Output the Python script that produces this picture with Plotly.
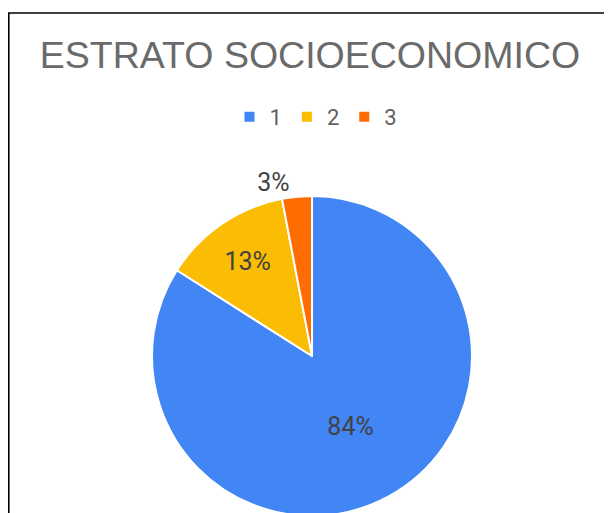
import plotly.graph_objects as go

labels = ["1", "2", "3"]
values = [84, 13, 3]
colors = ["#4285F4", "#FBBC04", "#FF6D01"]
text_positions = ["inside", "inside", "outside"]

# the page body adds an 8px margin on the left/top; the figure is sized so
# that it reaches the right edge of the window and runs past the bottom one
W, H = 604, 513

fig = go.Figure()
fig.add_trace(go.Pie(
    labels=labels,
    values=values,
    sort=False,
    direction="clockwise",
    rotation=0,
    marker=dict(colors=colors, line=dict(color="white", width=2)),
    textinfo="percent",
    texttemplate="%{percent:.0%}",
    textposition=text_positions,
    insidetextorientation="horizontal",
    textfont=dict(family="Roboto", size=25, color="#424242"),
    outsidetextfont=dict(family="Roboto", size=25, color="#424242"),
    insidetextfont=dict(family="Roboto", size=25, color="#424242"),
    domain=dict(x=[144 / W, 464 / W], y=[5 / H, 325 / H]),
    hoverinfo="label+percent",
))

fig.update_layout(
    width=W, height=H,
    margin=dict(l=0, r=0, t=0, b=0),
    paper_bgcolor="white",
    plot_bgcolor="white",
    title=dict(
        text="ESTRATO SOCIOECONOMICO",
        x=302 / W, xanchor="center",
        y=1 - 47 / H, yanchor="middle",
        font=dict(family="Liberation Sans, Arial", size=37.5, color="#6a6a6a"),
    ),
    legend=dict(
        orientation="h",
        x=308 / W, xanchor="center",
        y=1 - 109 / H, yanchor="middle",
        font=dict(family="Roboto", size=22, color="#5f5f5f"),
        itemwidth=30,
    ),
    shapes=[
        dict(type="line", xref="paper", yref="paper",
             x0=0.8 / W, x1=0.8 / W, y0=0, y1=1 - 5 / H,
             line=dict(color="black", width=1.6)),
        dict(type="line", xref="paper", yref="paper",
             x0=0, x1=1, y0=1 - 5 / H, y1=1 - 5 / H,
             line=dict(color="black", width=1.6)),
    ],
)

fig.write_html("out.html")
